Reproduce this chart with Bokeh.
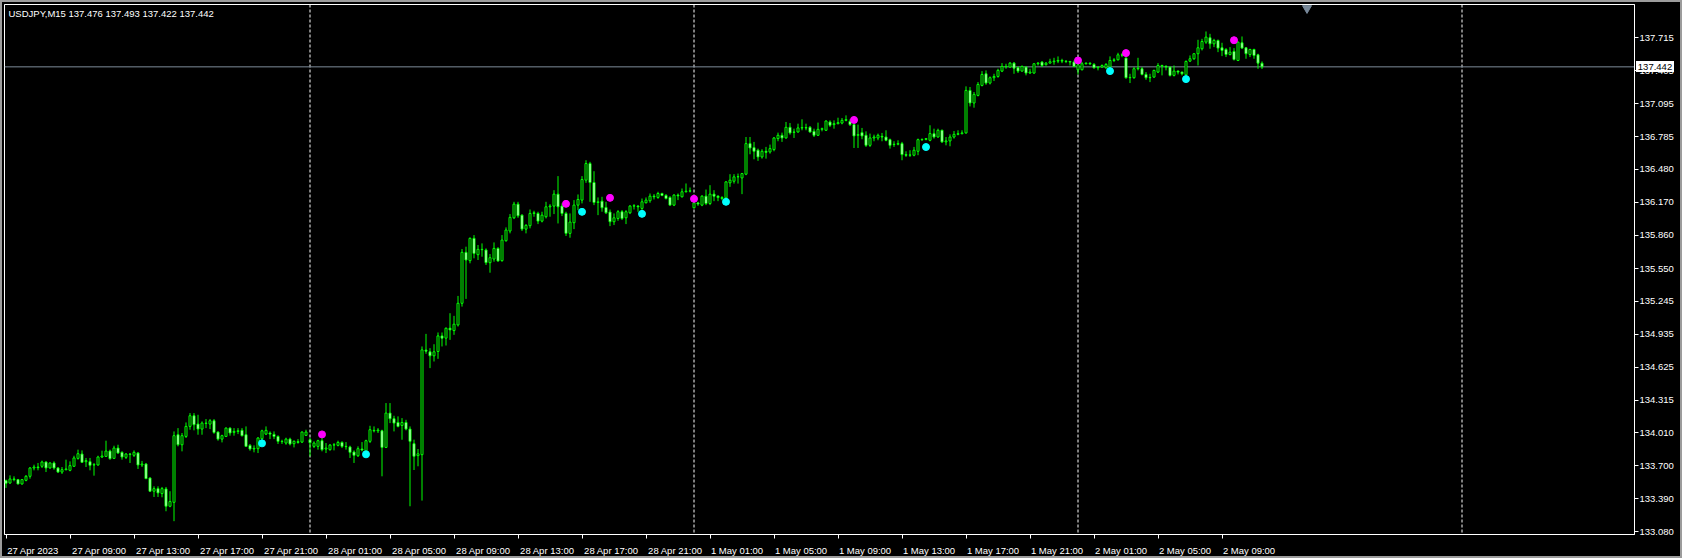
from bokeh.plotting import figure
from bokeh.layouts import column
from bokeh.models import Range1d, FixedTicker, PrintfTickFormatter, Span, Label, ColumnDataSource, Div
from bokeh.embed import file_html
from bokeh.resources import INLINE

# ---------------- data (USDJPY M15, bar 0 = 27 Apr 2023 05:00) ----------------
symbol = "USDJPY,M15"
opens = [
    133.560, 133.538, 133.576, 133.570, 133.529, 133.563, 133.601, 133.679, 133.688, 133.695,
    133.735, 133.679, 133.726, 133.679, 133.641, 133.663, 133.657, 133.695, 133.769, 133.810,
    133.738, 133.738, 133.707, 133.707, 133.782, 133.788, 133.838, 133.769, 133.866, 133.826,
    133.779, 133.810, 133.798, 133.819, 133.707, 133.716, 133.585, 133.461, 133.485, 133.439,
    133.482, 133.320, 133.357, 133.991, 133.897, 133.975, 134.069, 134.169, 134.091, 134.044,
    134.100, 134.091, 134.122, 134.016, 133.950, 133.975, 134.053, 134.013, 134.022, 134.032,
    133.991, 133.891, 133.857, 133.860, 133.954, 133.997, 134.007, 133.994, 133.975, 133.929,
    133.913, 133.950, 133.907, 133.926, 133.922, 133.985, 133.944, 133.882, 133.882, 133.935,
    133.857, 133.851, 133.894, 133.891, 133.919, 133.882, 133.876, 133.829, 133.794, 133.857,
    133.835, 133.929, 134.032, 134.028, 134.028, 133.872, 134.194, 134.141, 134.106, 134.078,
    134.106, 134.044, 133.907, 133.795, 133.804, 134.785, 134.769, 134.731, 134.772, 134.918,
    134.897, 134.990, 134.968, 135.021, 135.224, 135.702, 135.624, 135.833, 135.680, 135.730,
    135.724, 135.605, 135.639, 135.739, 135.624, 135.811, 135.902, 136.026, 136.154, 136.051,
    135.920, 135.952, 136.067, 136.067, 135.995, 136.036, 136.129, 136.136, 136.248, 136.136,
    136.067, 135.880, 135.980, 136.145, 136.192, 136.379, 136.535, 136.357, 136.170, 136.182,
    136.123, 136.080, 135.989, 136.020, 136.083, 136.026, 136.073, 136.136, 136.136, 136.114,
    136.167, 136.186, 136.229, 136.217, 136.254, 136.236, 136.217, 136.145, 136.239, 136.223,
    136.270, 136.276, 136.120, 136.166, 136.145, 136.229, 136.160, 136.248, 136.229, 136.216,
    136.213, 136.354, 136.369, 136.410, 136.400, 136.435, 136.722, 136.684, 136.660, 136.597,
    136.650, 136.644, 136.666, 136.769, 136.800, 136.775, 136.875, 136.831, 136.831, 136.869,
    136.872, 136.875, 136.837, 136.800, 136.856, 136.847, 136.925, 136.900, 136.909, 136.915,
    136.940, 136.931, 136.900, 136.800, 136.825, 136.800, 136.706, 136.775, 136.775, 136.790,
    136.784, 136.759, 136.713, 136.716, 136.722, 136.619, 136.613, 136.613, 136.650, 136.759,
    136.762, 136.753, 136.815, 136.784, 136.847, 136.738, 136.747, 136.784, 136.809, 136.815,
    136.822, 137.221, 137.103, 137.174, 137.268, 137.377, 137.290, 137.340, 137.352, 137.402,
    137.446, 137.440, 137.477, 137.434, 137.402, 137.440, 137.384, 137.384, 137.471, 137.487,
    137.462, 137.477, 137.490, 137.496, 137.502, 137.496, 137.493, 137.487, 137.415, 137.415,
    137.471, 137.477, 137.465, 137.434, 137.440, 137.434, 137.440, 137.502, 137.508, 137.555,
    137.524, 137.340, 137.340, 137.424, 137.424, 137.371, 137.340, 137.346, 137.393, 137.455,
    137.449, 137.440, 137.362, 137.402, 137.393, 137.368, 137.496, 137.518, 137.565, 137.612,
    137.674, 137.715, 137.658, 137.689, 137.621, 137.605, 137.558, 137.587, 137.502, 137.668,
    137.621, 137.558, 137.605, 137.555, 137.476,
]
highs = [
    133.570, 133.610, 133.601, 133.576, 133.576, 133.613, 133.688, 133.710, 133.726, 133.748,
    133.741, 133.732, 133.741, 133.688, 133.688, 133.757, 133.741, 133.794, 133.851, 133.844,
    133.773, 133.773, 133.726, 133.794, 133.841, 133.935, 133.851, 133.888, 133.897, 133.835,
    133.819, 133.819, 133.844, 133.829, 133.745, 133.726, 133.592, 133.507, 133.507, 133.501,
    133.501, 133.461, 134.022, 134.053, 134.007, 134.106, 134.194, 134.194, 134.178, 134.116,
    134.138, 134.138, 134.138, 134.022, 133.991, 134.060, 134.060, 134.053, 134.053, 134.053,
    134.069, 133.904, 133.891, 133.969, 134.038, 134.069, 134.022, 134.022, 133.985, 133.944,
    133.963, 133.963, 133.938, 133.950, 134.022, 134.038, 133.960, 133.929, 133.944, 133.969,
    133.913, 133.904, 133.913, 133.935, 133.929, 133.922, 133.888, 133.844, 133.882, 133.922,
    133.944, 134.075, 134.069, 134.053, 134.038, 134.288, 134.288, 134.169, 134.163, 134.147,
    134.131, 134.069, 133.945, 133.857, 134.819, 134.937, 134.803, 134.840, 134.950, 134.950,
    134.997, 135.131, 135.106, 135.293, 135.733, 135.755, 135.842, 135.864, 135.771, 135.786,
    135.739, 135.686, 135.795, 135.750, 135.864, 135.936, 136.061, 136.176, 136.176, 136.058,
    135.967, 136.104, 136.092, 136.083, 136.083, 136.176, 136.154, 136.285, 136.417, 136.161,
    136.083, 136.067, 136.192, 136.245, 136.417, 136.566, 136.551, 136.463, 136.217, 136.223,
    136.176, 136.104, 136.067, 136.098, 136.098, 136.098, 136.145, 136.154, 136.145, 136.207,
    136.217, 136.254, 136.248, 136.270, 136.261, 136.248, 136.229, 136.248, 136.254, 136.301,
    136.348, 136.310, 136.182, 136.176, 136.238, 136.291, 136.332, 136.285, 136.238, 136.229,
    136.369, 136.435, 136.435, 136.441, 136.447, 136.784, 136.784, 136.738, 136.675, 136.669,
    136.691, 136.713, 136.784, 136.825, 136.825, 136.925, 136.915, 136.862, 136.909, 136.950,
    136.909, 136.887, 136.862, 136.919, 136.872, 136.940, 136.940, 136.940, 136.965, 136.962,
    136.987, 136.950, 136.909, 136.900, 136.869, 136.837, 136.816, 136.806, 136.816, 136.822,
    136.847, 136.769, 136.744, 136.753, 136.738, 136.650, 136.660, 136.691, 136.769, 136.769,
    136.775, 136.894, 136.862, 136.862, 136.853, 136.784, 136.809, 136.840, 136.847, 136.847,
    137.259, 137.253, 137.206, 137.299, 137.402, 137.409, 137.352, 137.377, 137.424, 137.477,
    137.471, 137.487, 137.487, 137.446, 137.455, 137.446, 137.424, 137.477, 137.487, 137.496,
    137.487, 137.518, 137.527, 137.540, 137.518, 137.502, 137.496, 137.502, 137.477, 137.487,
    137.483, 137.483, 137.477, 137.449, 137.465, 137.477, 137.540, 137.524, 137.574, 137.571,
    137.533, 137.377, 137.440, 137.527, 137.440, 137.393, 137.377, 137.415, 137.477, 137.462,
    137.452, 137.446, 137.455, 137.409, 137.396, 137.502, 137.549, 137.571, 137.696, 137.705,
    137.774, 137.752, 137.705, 137.699, 137.668, 137.618, 137.627, 137.618, 137.680, 137.727,
    137.627, 137.612, 137.612, 137.565, 137.493,
]
lows = [
    133.492, 133.529, 133.554, 133.526, 133.523, 133.554, 133.579, 133.657, 133.657, 133.679,
    133.641, 133.673, 133.663, 133.632, 133.623, 133.657, 133.648, 133.688, 133.757, 133.726,
    133.688, 133.657, 133.607, 133.701, 133.773, 133.782, 133.757, 133.763, 133.813, 133.757,
    133.763, 133.726, 133.782, 133.670, 133.688, 133.576, 133.454, 133.407, 133.407, 133.404,
    133.273, 133.311, 133.180, 133.882, 133.835, 133.960, 134.038, 134.032, 133.991, 133.991,
    134.053, 134.044, 134.000, 133.935, 133.919, 133.969, 133.982, 133.982, 133.997, 133.975,
    133.876, 133.841, 133.826, 133.819, 133.944, 133.988, 133.950, 133.950, 133.904, 133.904,
    133.897, 133.891, 133.872, 133.907, 133.913, 133.982, 133.788, 133.866, 133.851, 133.835,
    133.819, 133.841, 133.844, 133.882, 133.866, 133.851, 133.773, 133.726, 133.782, 133.835,
    133.826, 133.913, 134.013, 134.007, 133.601, 133.866, 134.100, 134.022, 134.060, 133.944,
    134.032, 133.320, 133.660, 133.695, 133.373, 134.750, 134.616, 134.678, 134.703, 134.819,
    134.828, 134.881, 134.928, 135.006, 135.193, 135.265, 135.599, 135.646, 135.630, 135.661,
    135.583, 135.511, 135.614, 135.614, 135.614, 135.802, 135.880, 136.014, 136.026, 135.902,
    135.880, 135.927, 136.036, 135.967, 135.983, 136.020, 136.036, 136.061, 135.973, 136.042,
    135.855, 135.839, 135.920, 136.098, 136.161, 136.354, 136.176, 136.145, 136.051, 136.083,
    136.061, 135.948, 135.958, 135.998, 136.005, 135.967, 136.061, 136.104, 136.083, 136.098,
    136.161, 136.167, 136.198, 136.204, 136.229, 136.198, 136.139, 136.136, 136.192, 136.217,
    136.264, 136.264, 136.113, 136.138, 136.135, 136.145, 136.145, 136.182, 136.182, 136.191,
    136.207, 136.316, 136.347, 136.347, 136.248, 136.426, 136.622, 136.575, 136.560, 136.581,
    136.581, 136.628, 136.650, 136.744, 136.738, 136.769, 136.806, 136.775, 136.825, 136.847,
    136.847, 136.825, 136.784, 136.794, 136.837, 136.841, 136.878, 136.862, 136.903, 136.903,
    136.931, 136.887, 136.681, 136.681, 136.763, 136.691, 136.691, 136.744, 136.753, 136.744,
    136.744, 136.675, 136.691, 136.706, 136.566, 136.597, 136.597, 136.603, 136.613, 136.747,
    136.753, 136.744, 136.769, 136.778, 136.728, 136.706, 136.697, 136.769, 136.800, 136.809,
    136.815, 137.071, 137.059, 137.165, 137.259, 137.274, 137.277, 137.309, 137.340, 137.393,
    137.424, 137.434, 137.377, 137.384, 137.399, 137.362, 137.377, 137.377, 137.455, 137.440,
    137.455, 137.474, 137.462, 137.477, 137.477, 137.477, 137.455, 137.440, 137.371, 137.409,
    137.465, 137.459, 137.424, 137.409, 137.434, 137.424, 137.424, 137.487, 137.502, 137.533,
    137.331, 137.290, 137.331, 137.409, 137.362, 137.321, 137.299, 137.340, 137.384, 137.362,
    137.409, 137.352, 137.352, 137.371, 137.362, 137.362, 137.487, 137.508, 137.455, 137.596,
    137.658, 137.612, 137.627, 137.580, 137.543, 137.534, 137.549, 137.502, 137.496, 137.612,
    137.518, 137.534, 137.518, 137.424, 137.422,
]
closes = [
    133.535, 133.576, 133.570, 133.529, 133.570, 133.601, 133.679, 133.688, 133.682, 133.735,
    133.679, 133.726, 133.679, 133.641, 133.663, 133.670, 133.701, 133.773, 133.813, 133.732,
    133.748, 133.704, 133.710, 133.782, 133.791, 133.838, 133.766, 133.866, 133.819, 133.782,
    133.810, 133.807, 133.826, 133.707, 133.716, 133.579, 133.461, 133.485, 133.445, 133.485,
    133.320, 133.364, 133.982, 133.897, 133.982, 134.069, 134.169, 134.085, 134.044, 134.100,
    134.097, 134.122, 134.013, 133.950, 133.982, 134.053, 134.007, 134.022, 134.028, 133.982,
    133.882, 133.857, 133.863, 133.960, 134.028, 134.032, 133.997, 133.975, 133.929, 133.926,
    133.950, 133.904, 133.929, 133.919, 134.016, 134.016, 133.916, 133.913, 133.935, 133.851,
    133.866, 133.894, 133.897, 133.919, 133.882, 133.879, 133.826, 133.798, 133.860, 133.848,
    133.935, 134.038, 134.028, 134.035, 133.872, 134.194, 134.141, 134.100, 134.069, 134.106,
    134.044, 133.929, 133.789, 133.812, 134.787, 134.775, 134.731, 134.769, 134.918, 134.897,
    134.990, 134.975, 135.028, 135.224, 135.702, 135.630, 135.833, 135.692, 135.730, 135.727,
    135.605, 135.652, 135.739, 135.621, 135.817, 135.911, 136.030, 136.154, 136.045, 135.920,
    135.955, 136.067, 136.073, 135.995, 136.051, 136.129, 136.136, 136.248, 136.129, 136.067,
    135.880, 135.986, 136.145, 136.198, 136.385, 136.535, 136.357, 136.170, 136.176, 136.120,
    136.073, 135.989, 136.026, 136.083, 136.020, 136.083, 136.136, 136.139, 136.129, 136.176,
    136.192, 136.229, 136.223, 136.254, 136.236, 136.207, 136.145, 136.239, 136.232, 136.270,
    136.276, 136.279, 136.166, 136.155, 136.229, 136.160, 136.248, 136.229, 136.216, 136.207,
    136.363, 136.379, 136.410, 136.412, 136.441, 136.722, 136.681, 136.650, 136.597, 136.650,
    136.640, 136.675, 136.775, 136.800, 136.775, 136.875, 136.822, 136.828, 136.869, 136.872,
    136.869, 136.831, 136.800, 136.856, 136.862, 136.934, 136.894, 136.909, 136.919, 136.940,
    136.947, 136.900, 136.794, 136.806, 136.794, 136.706, 136.775, 136.784, 136.800, 136.784,
    136.753, 136.706, 136.716, 136.722, 136.619, 136.613, 136.616, 136.660, 136.759, 136.762,
    136.769, 136.816, 136.784, 136.847, 136.738, 136.747, 136.784, 136.809, 136.815, 136.822,
    137.221, 137.103, 137.184, 137.277, 137.371, 137.290, 137.340, 137.352, 137.409, 137.446,
    137.443, 137.477, 137.430, 137.402, 137.446, 137.384, 137.393, 137.471, 137.477, 137.455,
    137.477, 137.490, 137.496, 137.502, 137.496, 137.493, 137.487, 137.446, 137.462, 137.471,
    137.477, 137.471, 137.434, 137.440, 137.455, 137.465, 137.502, 137.508, 137.555, 137.552,
    137.340, 137.343, 137.424, 137.430, 137.371, 137.340, 137.343, 137.409, 137.455, 137.449,
    137.440, 137.362, 137.402, 137.393, 137.377, 137.493, 137.518, 137.565, 137.621, 137.680,
    137.721, 137.658, 137.690, 137.618, 137.596, 137.558, 137.580, 137.512, 137.674, 137.618,
    137.565, 137.605, 137.549, 137.477, 137.442,
]

# bar index of each time label (every 16 bars = 4 hours)
tick_bars = [0, 16, 32, 48, 64, 80, 96, 112, 128, 144, 160, 176, 192, 208, 224, 240, 256, 272, 288, 304]
tick_labels = ["27 Apr 2023", "27 Apr 09:00", "27 Apr 13:00", "27 Apr 17:00", "27 Apr 21:00",
               "28 Apr 01:00", "28 Apr 05:00", "28 Apr 09:00", "28 Apr 13:00", "28 Apr 17:00",
               "28 Apr 21:00", "1 May 01:00", "1 May 05:00", "1 May 09:00", "1 May 13:00",
               "1 May 17:00", "1 May 21:00", "2 May 01:00", "2 May 05:00", "2 May 09:00"]
day_separator_bars = [76, 172, 268, 364]
price_ticks = [133.080, 133.390, 133.700, 134.010, 134.315, 134.625, 134.935, 135.245,
               135.550, 135.860, 136.170, 136.480, 136.785, 137.095, 137.405, 137.715]
current_price = 137.442

magenta_bars = [79, 140, 151, 172, 212, 268, 280, 307]
magenta_prices = [133.994, 136.157, 136.213, 136.204, 136.944, 137.502, 137.571, 137.692]
cyan_bars = [64, 90, 144, 159, 180, 230, 276, 295]
cyan_prices = [133.910, 133.807, 136.082, 136.063, 136.176, 136.690, 137.402, 137.327]

# ---------------- layout / style ----------------
W, H = 1682, 558
B_LEFT, B_TOP, B_RIGHT, B_BOTTOM = 4, 4, 48, 23
FRAME_H = H - B_TOP - B_BOTTOM
X_START, X_END = -0.375, 407.125
Y_START, Y_END = 133.055, 138.027
SHIFT_MARK_BAR = 325.25
PX_PER_BAR = 4.0
FONT = "Liberation Sans"
FS = "9.5px"
LIME = "#00ff00"

n = len(opens)
assert len(highs) == n and len(lows) == n and len(closes) == n

idx = list(range(n))
src = ColumnDataSource(dict(
    x=idx, o=opens, h=highs, l=lows, c=closes,
    top=[max(o, c) for o, c in zip(opens, closes)],
    bottom=[min(o, c) for o, c in zip(opens, closes)],
    fill=["black" if c >= o else "white" for o, c in zip(opens, closes)],
))

fig = figure(width=W, height=H,
             x_range=Range1d(X_START, X_END), y_range=Range1d(Y_START, Y_END),
             y_axis_location="right", output_backend="svg", toolbar_location=None, tools="",
             background_fill_color="black", border_fill_color="black",
             outline_line_color="white", outline_line_width=1,
             x_axis_label=None, y_axis_label=None,
             min_border_left=B_LEFT, min_border_top=B_TOP,
             min_border_right=B_RIGHT, min_border_bottom=B_BOTTOM)
fig.xgrid.visible = False
fig.ygrid.visible = False

# day separators and current price line (behind candles)
for b in day_separator_bars:
    fig.add_layout(Span(location=b, dimension="height", line_color="white",
                        line_dash="3 2", line_width=1, level="underlay"))
fig.add_layout(Span(location=current_price, dimension="width", line_color="#7d8b99",
                    line_width=1, level="underlay"))

# candles
fig.segment(x0="x", y0="l", x1="x", y1="h", source=src, line_color=LIME, line_width=1)
fig.vbar(x="x", width=0.5, top="top", bottom="bottom", source=src,
         fill_color="fill", line_color=LIME, line_width=1)

# signal dots
fig.scatter(magenta_bars, magenta_prices, size=7, fill_color="#ff00ff", line_color="#ff00ff")
fig.scatter(cyan_bars, cyan_prices, size=7, fill_color="#00ffff", line_color="#00ffff")

# chart shift marker
fig.scatter([SHIFT_MARK_BAR], [Y_END - 0.035], marker="inverted_triangle", size=9,
            fill_color="#778899", line_color="#778899")

# y axis (right)
yax = fig.yaxis[0]
yax.ticker = FixedTicker(ticks=price_ticks)
yax.formatter = PrintfTickFormatter(format="%.3f")
yax.axis_line_color = "white"
yax.major_tick_line_color = "white"
yax.major_tick_out = 4
yax.major_tick_in = 0
yax.minor_tick_line_color = None
yax.minor_tick_out = 0
yax.minor_tick_in = 0
yax.major_label_standoff = 1
yax.major_label_text_color = "white"
yax.major_label_text_font = FONT
yax.major_label_text_font_size = FS

# x axis: minor ticks mark the times, labels start just right of each tick
label_pos = [b + (2 + 4.55 * len(t) / 2) / PX_PER_BAR for b, t in zip(tick_bars, tick_labels)]
xax = fig.xaxis[0]
xax.ticker = FixedTicker(ticks=label_pos, minor_ticks=tick_bars)
xax.major_label_overrides = {pos: t for pos, t in zip(label_pos, tick_labels)}
xax.axis_line_color = "white"
xax.major_tick_line_color = None
xax.major_tick_out = 0
xax.major_tick_in = 0
xax.minor_tick_line_color = "white"
xax.minor_tick_out = 4
xax.minor_tick_in = 0
xax.major_label_standoff = 6
xax.major_label_text_color = "white"
xax.major_label_text_font = FONT
xax.major_label_text_font_size = FS

# title text (top-left)
fig.add_layout(Label(x=4, y=Y_END, x_units="screen", y_units="data", y_offset=-9,
                     text=f"{symbol}  {opens[-1]:.3f} {highs[-1]:.3f} {lows[-1]:.3f} {closes[-1]:.3f}",
                     text_color="white", text_font=FONT, text_font_size=FS,
                     text_baseline="middle", text_align="left"))

# current price box on the price scale: an HTML box laid over the axis area
price_sy = B_TOP + (Y_END - current_price) / (Y_END - Y_START) * FRAME_H
box_h, box_w = 11, 38
price_box = Div(text=f"{current_price:.3f}", width=box_w, height=box_h, margin=0,
                styles={"position": "absolute",
                        "left": f"{W - B_RIGHT + 2}px", "top": f"{round(price_sy - box_h / 2)}px",
                        "background-color": "white", "color": "black",
                        "font-family": FONT, "font-size": FS, "line-height": f"{box_h}px",
                        "text-align": "center", "overflow": "hidden", "z-index": "5"})
# thin grey window frame around the whole chart
window_frame = Div(text="", width=W, height=H, margin=0,
                   styles={"position": "absolute", "left": "0px", "top": "0px",
                           "border": "2px solid #9c9c9c", "box-sizing": "border-box",
                           "pointer-events": "none", "background": "transparent", "z-index": "6"})

p = column(fig, price_box, window_frame, spacing=0)

open("out.html", "w").write(file_html(p, INLINE))
